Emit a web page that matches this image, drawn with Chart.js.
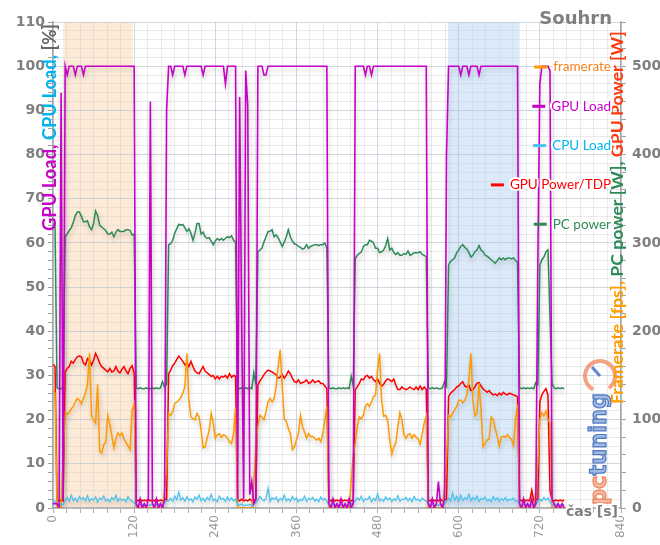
<!DOCTYPE html>
<html><head><meta charset="utf-8">
<script src="https://cdn.jsdelivr.net/npm/chart.js@4"></script>
<style>html,body{margin:0;padding:0;background:#fff;}canvas{display:block;}</style>
</head><body>
<canvas id="c" width="660" height="545"></canvas>
<script>
// ---------- DATA (sampled every 3 s) ----------
const time = [0,3,6,9,12,15,18,21,24,27,30,33,36,39,42,45,48,51,54,57,60,63,66,69,72,75,78,81,84,87,90,93,96,99,102,105,108,111,114,117,120,123,126,129,132,135,138,141,144,147,150,153,156,159,162,165,168,171,174,177,180,183,186,189,192,195,198,201,204,207,210,213,216,219,222,225,228,231,234,237,240,243,246,249,252,255,258,261,264,267,270,273,276,279,282,285,288,291,294,297,300,303,306,309,312,315,318,321,324,327,330,333,336,339,342,345,348,351,354,357,360,363,366,369,372,375,378,381,384,387,390,393,396,399,402,405,408,411,414,417,420,423,426,429,432,435,438,441,444,447,450,453,456,459,462,465,468,471,474,477,480,483,486,489,492,495,498,501,504,507,510,513,516,519,522,525,528,531,534,537,540,543,546,549,552,555,558,561,564,567,570,573,576,579,582,585,588,591,594,597,600,603,606,609,612,615,618,621,624,627,630,633,636,639,642,645,648,651,654,657,660,663,666,669,672,675,678,681,684,687,690,693,696,699,702,705,708,711,714,717,720,723,726,729,732,735,738,741,744,747,750,753,756];

// GPU Load [%]
const gpuLoad = [
 1,1,
 1,0,94,2,
 100,98,100,100,100,98,100,100,100,98, 100,100,100,100,100,100,100,100,100,100, 100,100,100,100,100,100,100,100,100,100, 100,100,100,100,100,
 1,0,2,0,1,0,2,92,1,0,2,0,1,0,2,90,
 100,100,98,100,100,100,100,100,98,100, 100,100,100,100,100,100,100,98,100,100, 100,100,100,100,100,100,100,100,96,100, 100,100,100,100,
 2,93,42,2,99,91,3,6,1,2,
 100,100,100,98,98,100,100,100,100,100, 100,100,100,100,100,100,100,100,100,100, 100,100,100,100,100,100,100,100,100,100, 100,100,100,100,100,
 1,0,2,0,1,0,2,0,1,0,2,0,1,
 100,100,100,100,100,98,100,100,98,100, 100,100,100,100,100,100,100,100,100,100, 100,100,100,100,100,100,100,100,100,100, 100,100,100,100,100,100,
 1,0,2,0,1,6,1,0,2,80,
 100,100,100,100,100,100,98,100,100,100, 98,100,100,100,100,98,100,100,100,100, 100,100,100,100,100,100,100,100,100,100, 100,100,100,100,100,
 1,0,2,0,1,0,2,0,1,56,
 96,100,100,100,100,99,
 2,1,0,1,0,1,0
];

// CPU Load [%]
const cpuLoad = [
 2.0,1.5,
 0.8,0.6,0.9,0.7,
 1.8,2.4,1.5,2.9,1.7,2.2,1.4,2.6,1.9,2.3,1.6,2.8,1.5,2.1,1.8,2.5,1.3,2.2,1.9,2.7,1.6,2.0,1.4,2.4,1.8,2.9,1.5,2.2,1.7,2.0,1.4,2.6,1.8,1.5,1.2,
 0.7,0.5,0.8,0.6,0.9,0.5,0.7,0.6,0.8,0.5,0.7,0.9,0.6,0.8,1.2,1.6,
 1.6,2.2,1.5,2.7,1.9,3.6,1.8,2.3,1.5,2.6,1.7,2.1,1.4,2.5,2.0,2.9,1.6,2.2,1.5,2.4,1.8,3.1,1.6,2.0,1.4,2.7,1.9,2.2,1.5,2.5,1.7,2.3,1.6,2.0,
 0.8,0.6,0.9,0.5,0.7,0.6,0.8,0.5,0.9,1.2,
 1.8,2.6,2.0,1.6,2.2,4.5,1.5,2.3,1.9,2.5,1.4,2.2,1.7,2.9,1.6,2.1,1.5,2.6,1.8,2.3,1.4,2.0,1.7,2.7,1.5,2.2,1.9,2.4,1.6,2.0,1.4,2.5,1.8,2.1,1.5,
 0.7,0.5,0.8,0.6,0.9,0.5,0.7,0.6,0.8,0.5,0.7,0.9,1.3,
 1.6,2.3,1.8,2.7,1.5,2.1,1.9,2.6,1.4,2.2,1.7,3.2,1.6,2.0,1.5,2.5,1.8,2.3,1.4,2.1,1.7,2.8,1.5,2.0,1.9,2.4,1.6,2.2,1.4,2.6,1.8,2.0,1.5,2.3,1.7,1.6,
 0.8,0.6,0.9,0.5,0.7,0.6,0.8,0.5,0.9,1.4,
 2.2,1.6,3.4,1.8,2.6,1.5,2.9,1.7,2.3,1.9,3.1,1.6,2.4,1.8,2.7,1.5,2.2,1.9,2.5,1.6,2.0,1.4,2.6,1.8,2.3,1.5,2.1,1.7,2.4,1.6,2.0,1.8,2.2,1.5,1.7,
 0.7,0.5,0.8,0.6,0.9,0.5,0.7,0.6,0.8,1.5,
 2.0,1.6,2.4,1.8,2.2,1.5,
 0.8,0.6,0.9,0.5,0.7,0.6,0.8
];

// GPU Power [W]
const gpuPower = [
 163,160,
 9,8,9,8,
 154,158,160,166,164,168,171,172,171,164,162,169,167,162,167,175,170,164,160,158,156,154,158,154,155,160,155,153,157,160,155,152,158,161,152,
 9,8,10,8,9,8,10,8,9,8,10,8,9,8,10,9,
 152,156,161,164,168,172,169,166,162,164,160,166,160,155,153,152,156,160,155,153,151,149,150,146,149,146,149,148,150,147,152,148,150,149,
 9,8,10,8,9,8,10,8,9,10,
 139,144,147,151,154,156,155,154,152,151,147,148,151,147,150,155,152,147,143,142,145,141,142,143,145,141,142,145,142,143,144,141,141,138,135,
 9,8,10,8,9,8,10,8,9,8,10,8,9,
 134,137,141,146,145,149,150,147,149,145,143,146,141,138,140,144,146,145,143,146,139,134,134,137,135,134,135,137,135,134,137,134,138,134,137,134,
 9,8,10,8,9,8,10,8,9,10,
 126,130,132,134,137,138,141,143,138,137,139,133,134,137,141,142,138,135,133,131,133,130,128,129,127,130,128,131,129,128,130,129,128,127,126,
 9,8,10,8,9,8,20,8,9,10,
 120,128,132,135,128,20,
 9,8,9,8,9,8,9
];

// PC power [W]
const pcPower = [
 322,318,
 136,135,135,136,
 307,310,314,317,323,331,335,335,330,324,324,325,318,315,322,336,331,320,318,316,314,310,310,312,307,312,315,313,313,313,315,315,314,309,310,
 136,135,136,135,135,136,135,135,136,135,136,135,136,143,137,140,
 298,299,303,311,316,321,320,321,317,313,316,311,303,311,322,322,310,312,307,305,306,302,298,302,305,303,305,303,305,307,306,308,303,301,
 136,135,136,135,136,135,136,135,153,140,
 290,292,294,301,307,313,313,315,307,309,306,301,296,301,307,315,307,302,299,298,296,295,293,294,298,294,296,297,298,298,297,298,298,300,294,
 136,135,136,135,135,136,135,136,135,136,135,149,138,
 282,286,288,290,296,298,298,303,302,300,294,294,289,290,292,297,305,292,294,289,287,289,286,286,288,287,291,286,287,289,289,289,290,287,286,284,
 136,135,136,135,136,135,135,136,143,138,
 275,279,281,283,289,292,296,298,295,293,289,284,286,290,292,297,292,290,286,285,283,281,279,277,280,283,281,283,281,283,283,282,283,280,278,
 136,135,136,135,136,135,136,135,142,140,
 275,281,284,290,292,216,
 141,136,135,136,135,136,135
];

// Framerate [fps]
const framerate = [
 135,130,
 0,0,0,60,
 108,106,108,112,115,120,124,122,118,124,130,140,175,104,100,96,140,64,62,72,74,105,95,82,68,78,85,82,85,78,74,70,66,110,118,
 0,0,0,0,0,0,0,0,0,0,0,0,0,0,20,45,
 107,105,109,118,120,122,125,130,137,175,122,103,101,100,107,103,88,68,69,79,88,107,96,79,83,84,80,83,82,79,75,73,84,113,
 0,0,0,0,0,0,0,0,30,70,
 92,105,103,100,109,120,124,120,124,137,160,179,137,101,98,90,84,66,69,77,84,105,92,86,79,84,81,81,79,77,79,75,84,100,115,
 0,0,0,0,0,0,0,0,0,0,0,30,60,
 73,92,103,101,105,115,118,115,120,126,128,156,175,122,104,105,99,77,61,69,74,92,108,100,83,79,83,84,79,83,80,78,72,84,96,104,
 0,0,0,0,0,0,0,0,20,55,
 105,103,107,111,115,122,122,119,122,128,145,175,122,104,107,141,111,69,73,77,78,103,100,90,81,70,80,81,80,83,80,78,71,100,117,
 0,0,0,0,0,0,0,0,20,50,
 100,108,104,110,100,96,
 0,0,0,0,0,0,0
];

// highlighted time ranges [s]
const bandStart = [15, 584];
const bandEnd   = [118, 690];

const seriesNames = ['framerate','GPU Load','CPU Load','GPU Power/TDP','PC power'];

// ---------- STYLE ----------
const C_ORANGE = '#ff9a00', C_ORANGE_TXT = '#f58220', C_MAG = '#c800c8', C_CYAN = '#4cc3f0',
      C_RED = '#ff0000', C_GREEN = '#2e8b57', C_GRAY = '#7f7f7f';
const bandColors = ['rgba(252,226,200,0.7)','rgba(205,227,250,0.75)'];
const majorGrid = 'rgba(185,193,207,0.65)', minorGrid = 'rgba(205,205,205,0.4)';

const shadowPlugin = {
  id:'shadow',
  beforeDatasetDraw(chart){ const c=chart.ctx; c.save(); c.shadowColor='rgba(0,0,0,0.22)'; c.shadowBlur=5; c.shadowOffsetX=1; c.shadowOffsetY=3; },
  afterDatasetDraw(chart){ chart.ctx.restore(); }
};

const bandPlugin = {
  id:'bands',
  beforeDraw(chart){
    const {ctx, chartArea:a, scales:{x}} = chart;
    ctx.save();
    bandStart.forEach((s,i)=>{
      const x0=x.getPixelForValue(s), x1=x.getPixelForValue(bandEnd[i]);
      ctx.fillStyle=bandColors[i];
      ctx.fillRect(x0,a.top,x1-x0,a.bottom-a.top);
    });
    ctx.restore();
  }
};

function rotatedParts(ctx, x, yStart, parts, family, targetLen, weight){
  ctx.save();
  ctx.font = weight+' 16px "'+family+'"';
  let w=0; parts.forEach(p=>w+=ctx.measureText(p[0]).width);
  const size = 16*targetLen/w;
  ctx.font = weight+' '+size.toFixed(2)+'px "'+family+'"';
  ctx.translate(x,yStart); ctx.rotate(-Math.PI/2);
  ctx.textBaseline='middle'; ctx.textAlign='left';
  let off=0;
  parts.forEach(p=>{ ctx.fillStyle=p[1]; ctx.fillText(p[0],off,0); off+=ctx.measureText(p[0]).width; });
  ctx.restore();
}

const overlayPlugin = {
  id:'overlay',
  afterDraw(chart){
    const ctx=chart.ctx;
    // logo watermark
    ctx.save();
    ctx.translate(600,505); ctx.rotate(-Math.PI/2);
    ctx.font='bold 24px "DejaVu Sans"';
    const sc = 112/ctx.measureText('pctuning').width;
    ctx.font='bold '+(24*sc).toFixed(1)+'px "DejaVu Sans"';
    ctx.textBaseline='middle'; ctx.textAlign='left';
    ctx.lineWidth=1.2;
    ctx.fillStyle='rgba(240,130,90,0.55)'; ctx.strokeStyle='rgba(235,110,60,0.8)';
    ctx.fillText('pc',0,0); ctx.strokeText('pc',0,0);
    const wpc=ctx.measureText('pc').width;
    ctx.fillStyle='rgba(70,115,195,0.5)'; ctx.strokeStyle='rgba(45,95,185,0.8)';
    ctx.fillText('tuning',wpc,0); ctx.strokeText('tuning',wpc,0);
    ctx.restore();
    ctx.save();
    ctx.strokeStyle='rgba(240,125,80,0.7)'; ctx.lineWidth=4;
    ctx.beginPath(); ctx.arc(600,376,15,Math.PI*0.65,Math.PI*2.3); ctx.stroke();
    ctx.strokeStyle='rgba(45,95,185,0.75)'; ctx.lineWidth=3;
    ctx.beginPath(); ctx.moveTo(600,376); ctx.lineTo(592,367); ctx.stroke();
    ctx.restore();

    // title
    ctx.save();
    ctx.font='bold 18px "DejaVu Sans"'; ctx.fillStyle=C_GRAY; ctx.textAlign='right'; ctx.textBaseline='middle';
    ctx.fillText('Souhrn',612,19);
    ctx.restore();

    // x axis title
    ctx.save();
    ctx.font='bold 14px "DejaVu Sans"'; ctx.textAlign='right'; ctx.textBaseline='middle';
    ctx.lineWidth=4; ctx.strokeStyle='#fff'; ctx.lineJoin='round';
    ctx.strokeText('čas [s]',618,512);
    ctx.fillStyle=C_GRAY; ctx.fillText('čas [s]',618,512);
    ctx.restore();

    // axis titles
    rotatedParts(ctx, 50, 231, [['GPU Load',C_MAG],[', ',C_MAG],['CPU Load','#00b4f0'],[', ','#00b4f0'],['[%]','#666']], 'Lato', 207, 'bold');
    rotatedParts(ctx, 617, 404, [['Framerate [fps]','#ff9c00'],[', ','#ff9c00'],['PC power [W]',C_GREEN],[', ',C_GREEN],['GPU Power [W]','#ff3a10']], 'Lato', 373, 'bold');

    // legend
    const cols=[C_ORANGE_TXT,C_MAG,'#00b4f0',C_RED,C_GREEN];
    const lineCols=[C_ORANGE,C_MAG,C_CYAN,C_RED,C_GREEN];
    ctx.save();
    ctx.font='13.5px "Lato"'; ctx.textAlign='right'; ctx.textBaseline='middle';
    seriesNames.forEach((n,i)=>{
      const y=67+i*39.3, xr=611;
      const w=ctx.measureText(n).width;
      ctx.lineWidth=4; ctx.strokeStyle='#fff'; ctx.lineJoin='round';
      ctx.strokeText(n,xr,y);
      ctx.fillStyle=cols[i]; ctx.fillText(n,xr,y);
      ctx.fillStyle=lineCols[i];
      ctx.fillRect(xr-w-19,y-1.5,13,3);
    });
    ctx.restore();
  }
};

const ds = (label,data,color,axis,order,width)=>({label,data,borderColor:color,backgroundColor:color,yAxisID:axis,order,
  borderWidth:width,pointRadius:0,tension:0,fill:false});

new Chart(document.getElementById('c'),{
  type:'line',
  data:{
    labels:time,
    datasets:[
      ds(seriesNames[4],pcPower,C_GREEN,'y2',5,1.5),
      ds(seriesNames[3],gpuPower,C_RED,'y2',4,1.5),
      ds(seriesNames[0],framerate,C_ORANGE,'y2',3,1.5),
      ds(seriesNames[2],cpuLoad,C_CYAN,'y',2,1.3),
      ds(seriesNames[1],gpuLoad,C_MAG,'y',1,1.6)
    ]
  },
  options:{
    responsive:false, animation:false, devicePixelRatio:1,
    layout:{padding:{top:22,left:0,right:0,bottom:0}},
    plugins:{legend:{display:false},tooltip:{enabled:false}},
    scales:{
      x:{type:'linear',min:0,max:840,
        afterFit(s){s.height=37;},
        ticks:{stepSize:20,autoSkip:false,maxRotation:90,minRotation:90,padding:2,
          callback:v=>v%120===0?String(v):'',color:'#9a9a9a',font:{family:'DejaVu Sans',size:12}},
        grid:{color:c=>c.tick&&c.tick.value%120===0?majorGrid:minorGrid,tickLength:5,tickColor:'#b0b0b0'},
        border:{color:'#b8b8b8',width:2}
      },
      y:{position:'left',min:0,max:110,
        afterFit(s){s.width=53;},
        ticks:{stepSize:2,autoSkip:false,padding:3,callback:v=>v%10===0?String(v):'',color:C_GRAY,font:{family:'DejaVu Sans',size:14,weight:'bold'}},
        grid:{color:c=>c.tick&&c.tick.value%10===0?majorGrid:minorGrid,tickLength:5,tickColor:'#a0a0a0'},
        border:{color:'#a8a8a8',width:1.5}
      },
      y2:{position:'right',min:0,max:550,
        afterFit(s){s.width=39;},
        ticks:{stepSize:20,autoSkip:false,padding:6,callback:v=>v%100===0?String(v):'',color:C_GRAY,font:{family:'DejaVu Sans',size:14,weight:'bold'}},
        grid:{drawOnChartArea:false,tickLength:5,tickColor:'#a0a0a0'},
        border:{color:'#a8a8a8',width:1.5}
      }
    }
  },
  plugins:[bandPlugin,shadowPlugin,overlayPlugin]
});
</script>
</body></html>
